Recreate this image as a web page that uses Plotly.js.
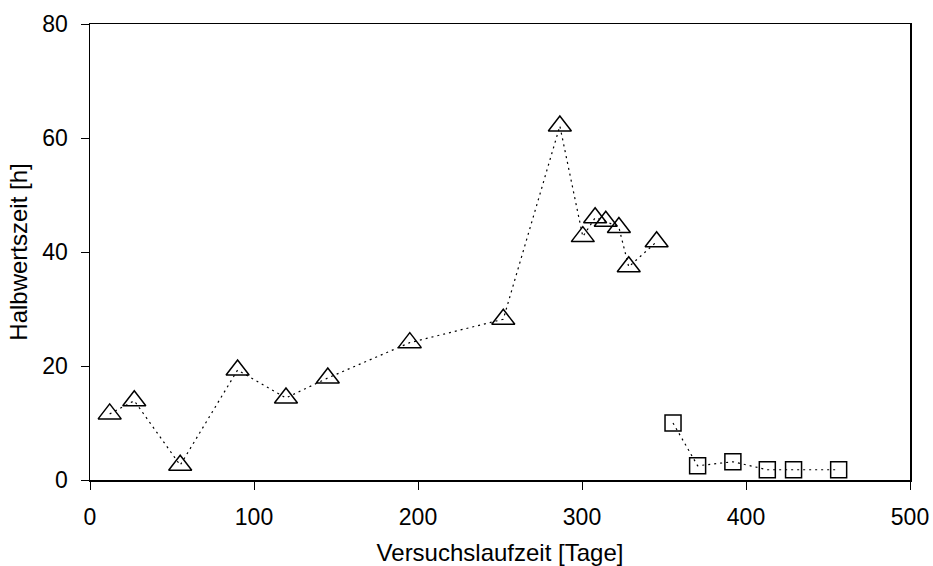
<!DOCTYPE html>
<html>
<head>
<meta charset="utf-8">
<script src="https://cdn.plot.ly/plotly-3.0.1.min.js"></script>
<style>html,body{margin:0;padding:0;background:#fff;}#chart{width:933px;height:566px;}</style>
</head>
<body>
<div id="chart"></div>
<script>
const triX = [12, 27, 55, 90, 119.5, 145, 195, 252, 286.5, 300.5, 308, 314.5, 322.5, 328.5, 345.5];
const triY = [11.6, 13.9, 2.6, 19.3, 14.4, 17.9, 24.1, 28.2, 62.1, 42.7, 46.0, 45.4, 44.3, 37.4, 41.8];
const sqX = [355.5, 370.5, 392, 413, 429, 456.5];
const sqY = [10.0, 2.5, 3.2, 1.8, 1.8, 1.8];
const xTicks = [0, 100, 200, 300, 400, 500];
const yTicks = [0, 20, 40, 60, 80];

const font = {family: 'Liberation Sans, Arial, sans-serif', color: '#000'};
const traces = [
  {x: triX, y: triY, mode: 'lines+markers', type: 'scatter',
   line: {color: '#000', width: 1.2, dash: '2px,4px'},
   marker: {symbol: 'triangle-up-open', size: 20, color: '#000', line: {color: '#000', width: 1.5}}},
  {x: sqX, y: sqY, mode: 'lines+markers', type: 'scatter',
   line: {color: '#000', width: 1.2, dash: '2px,4px'},
   marker: {symbol: 'square-open', size: 16, color: '#000', line: {color: '#000', width: 1.5}}}
];
const layout = {
  width: 933, height: 566,
  margin: {l: 90, r: 23, t: 24, b: 86},
  paper_bgcolor: '#fff', plot_bgcolor: '#fff',
  showlegend: false,
  font: Object.assign({size: 23}, font),
  xaxis: {range: [0, 500], tickvals: xTicks, ticktext: xTicks.map(String),
    showgrid: false, zeroline: false, showline: true, linecolor: '#000', linewidth: 1.5, mirror: true,
    ticks: 'outside', ticklen: 8, tickcolor: '#000', tickwidth: 1, ticklabelstandoff: 8,
    tickfont: Object.assign({size: 23}, font),
    title: {text: 'Versuchslaufzeit [Tage]', font: Object.assign({size: 24}, font), standoff: 17}},
  yaxis: {range: [0, 80], tickvals: yTicks, ticktext: yTicks.map(String),
    showgrid: false, zeroline: false, showline: true, linecolor: '#000', linewidth: 1.5, mirror: true,
    ticks: 'outside', ticklen: 8, tickcolor: '#000', tickwidth: 1, ticklabelstandoff: 8,
    tickfont: Object.assign({size: 23}, font),
    title: {text: 'Halbwertszeit [h]', font: Object.assign({size: 24}, font), standoff: 8}}
};
Plotly.newPlot('chart', traces, layout, {displayModeBar: false, staticPlot: true});
</script>
</body>
</html>
